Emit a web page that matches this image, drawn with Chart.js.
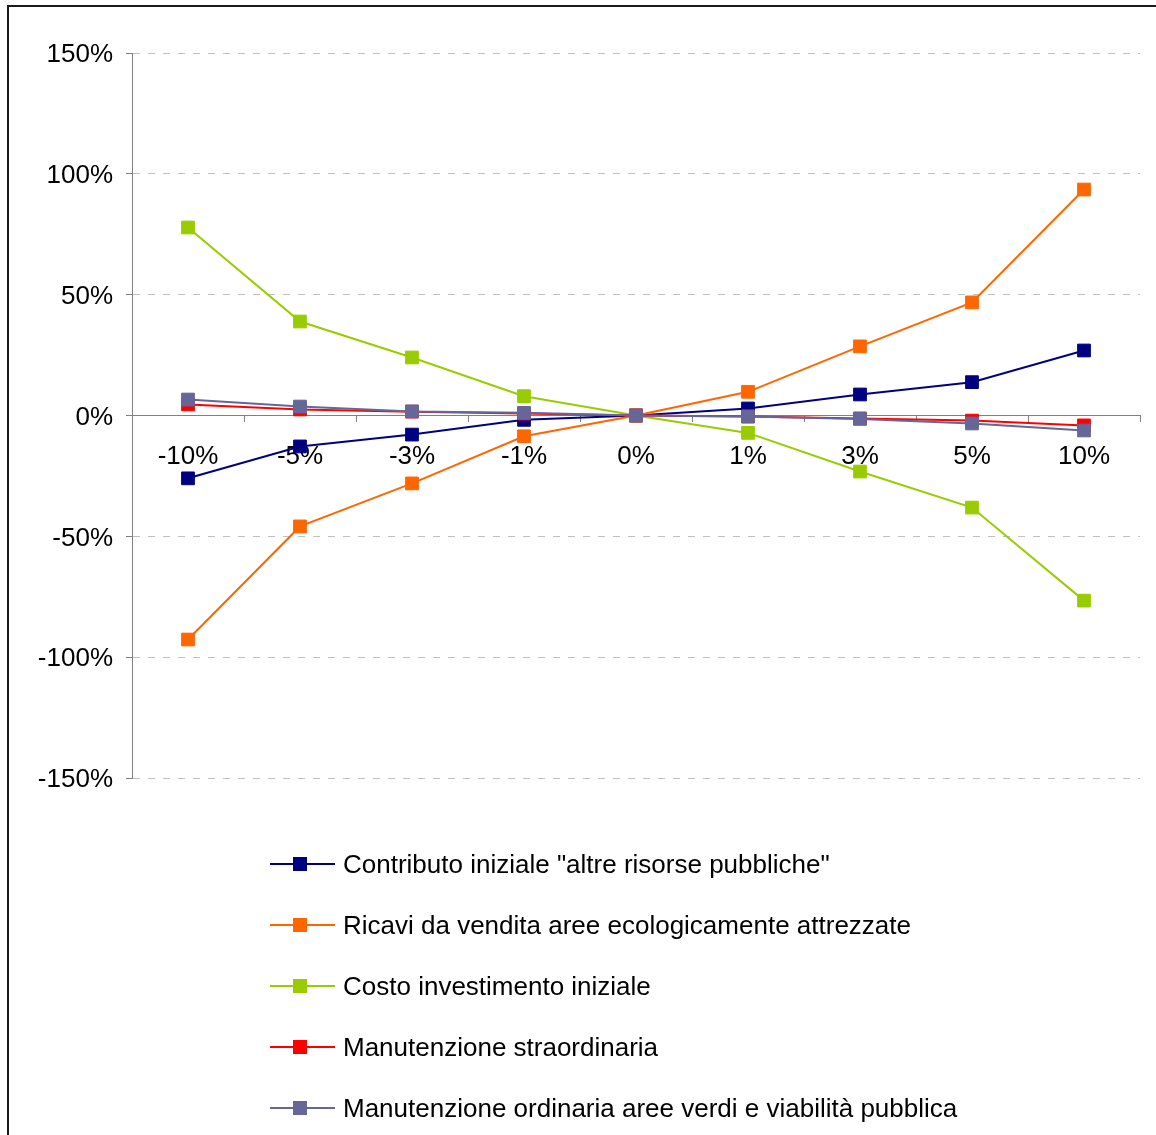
<!DOCTYPE html>
<html>
<head>
<meta charset="utf-8">
<script src="https://cdn.jsdelivr.net/npm/chart.js@4/dist/chart.umd.min.js"></script>
<style>
    html, body { margin: 0; padding: 0; background: #fff; }
    canvas { display: block; }
</style>
</head>
<body>
<canvas id="sensChart" width="1156" height="1135"></canvas>
<script>
// categorie (variazione del parametro)
const categories = ['-10%', '-5%', '-3%', '-1%', '0%', '1%', '3%', '5%', '10%'];

// serie (variazione del risultato, in %)
const contributo = [-26, -12.8, -7.9, -1.8, 0, 2.9, 8.7, 13.8, 26.9];
const ricavi = [-92.7, -45.9, -28.1, -8.6, 0, 9.8, 28.6, 46.8, 93.5];
const costo = [77.8, 38.9, 24, 8, 0, -7.2, -23.2, -38.1, -76.6];
const straordinaria = [4.6, 2.5, 1.6, 0.8, 0, -0.4, -1.2, -2.1, -4.1];
const ordinaria = [6.6, 3.7, 1.7, 1.1, 0, -0.4, -1.4, -3.3, -6.2];

// etichette asse y
const yTicks = [-150, -100, -50, 0, 50, 100, 150];

const seriesNames = [
    'Contributo iniziale "altre risorse pubbliche"',
    'Ricavi da vendita aree ecologicamente attrezzate',
    'Costo investimento iniziale',
    'Manutenzione straordinaria',
    'Manutenzione ordinaria aree verdi e viabilità pubblica'
];
const seriesColors = ['#000080', '#FF6600', '#99CC00', '#FF0000', '#666699'];
const seriesData = [contributo, ricavi, costo, straordinaria, ordinaria];

const FONT = "'Liberation Sans', Arial, sans-serif";

// cornice esterna + sfondo
const framePlugin = {
    id: 'frame',
    beforeDraw(chart) {
        const ctx = chart.ctx;
        ctx.save();
        ctx.fillStyle = '#fff';
        ctx.fillRect(0, 0, chart.width, chart.height);
        ctx.strokeStyle = '#1a1a1a';
        ctx.lineWidth = 2;
        ctx.strokeRect(8, 6, 1300, 1300);
        ctx.restore();
    }
};

// legenda verticale in basso
const legendPlugin = {
    id: 'bottomLegend',
    afterDraw(chart) {
        const ctx = chart.ctx;
        ctx.save();
        chart.data.datasets.forEach((ds, i) => {
            const y = 864 + i * 61;
            ctx.strokeStyle = ds.borderColor;
            ctx.lineWidth = 2;
            ctx.beginPath();
            ctx.moveTo(270, y);
            ctx.lineTo(335, y);
            ctx.stroke();
            ctx.fillStyle = ds.borderColor;
            ctx.fillRect(293, y - 7, 14, 14);
            ctx.fillStyle = '#000';
            ctx.font = '26px ' + FONT;
            ctx.textBaseline = 'middle';
            ctx.textAlign = 'left';
            ctx.fillText(ds.label, 343, y + 2);
        });
        ctx.restore();
    }
};

const datasets = seriesData.map((d, i) => ({
    label: seriesNames[i],
    data: d,
    borderColor: seriesColors[i],
    backgroundColor: seriesColors[i],
    borderWidth: 2,
    pointStyle: 'rect',
    pointRadius: 9,
    pointHoverRadius: 9,
    pointBorderWidth: 1,
    fill: false,
    tension: 0,
    order: 5 - i // l'ultima serie sopra
}));

new Chart(document.getElementById('sensChart'), {
    type: 'line',
    data: { labels: categories, datasets: datasets },
    options: {
        responsive: false,
        animation: false,
        events: [],
        layout: {
            padding: { left: 0, top: 53, right: 16, bottom: 357 }
        },
        plugins: {
            legend: { display: false },
            tooltip: { enabled: false }
        },
        scales: {
            x: {
                type: 'category',
                position: { y: 0 },
                offset: true,
                grid: {
                    offset: true,
                    drawOnChartArea: false,
                    drawTicks: true,
                    tickLength: 6,
                    tickColor: '#808080',
                    color: '#808080'
                },
                border: { display: true, color: '#808080', width: 1 },
                ticks: {
                    color: '#000',
                    padding: 20,
                    maxRotation: 0,
                    autoSkip: false,
                    font: { family: FONT, size: 26 }
                }
            },
            y: {
                min: -150,
                max: 150,
                afterFit(scale) { scale.width = 132; },
                afterBuildTicks(scale) {
                    scale.ticks = yTicks.map(v => ({ value: v }));
                },
                grid: {
                    color: '#c0c0c0',
                    lineWidth: 1,
                    tickLength: 6,
                    tickColor: '#808080'
                },
                border: { display: true, color: '#808080', width: 1, dash: [7, 8] },
                ticks: {
                    color: '#000',
                    padding: 13,
                    labelOffset: 2,
                    font: { family: FONT, size: 26 },
                    callback: function (value) {
                        return value + '%';
                    }
                }
            }
        }
    },
    plugins: [framePlugin, legendPlugin]
});
</script>
</body>
</html>
